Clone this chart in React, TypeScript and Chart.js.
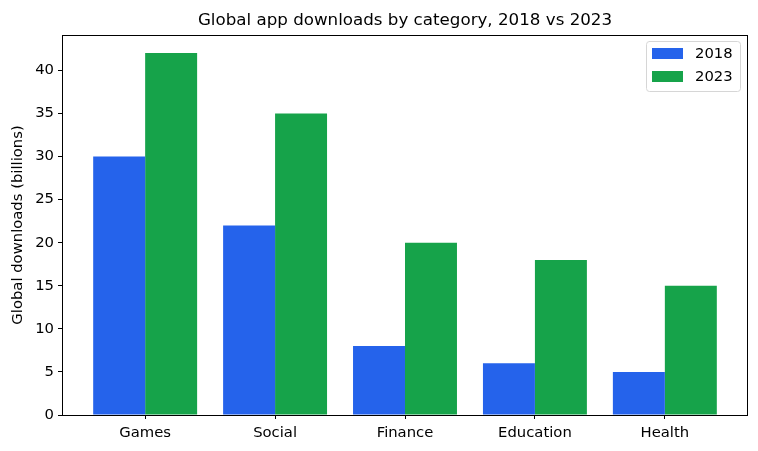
import React, { useEffect, useRef } from "react";
import { Chart, registerables } from "chart.js";

Chart.register(...registerables);

const categories = ["Games", "Social", "Finance", "Education", "Health"];
const series2018 = [30, 22, 8, 6, 5];
const series2023 = [42, 35, 20, 18, 15];
const seriesLabels = ["2018", "2023"];
const yTicks = [0, 5, 10, 15, 20, 25, 30, 35, 40];
const titleText = "Global app downloads by category, 2018 vs 2023";
const yAxisTitle = "Global downloads (billions)";

const FONT = "'DejaVu Sans', sans-serif";
const BLUE = "#2563eb";
const GREEN = "#16a34a";

const framePlugin = {
  id: "frame",
  afterDatasetsDraw(chart: any) {
    const { ctx, chartArea } = chart;
    ctx.save();
    ctx.strokeStyle = "#000";
    ctx.lineWidth = 1;
    ctx.strokeRect(
      Math.round(chartArea.left) + 0.5,
      Math.round(chartArea.top) + 0.5,
      Math.round(chartArea.right - chartArea.left) - 1,
      Math.round(chartArea.bottom - chartArea.top)
    );
    ctx.restore();
  },
  afterDraw(chart: any) {
    const { ctx, chartArea } = chart;
    ctx.save();
    // title
    ctx.fillStyle = "#000";
    ctx.font = `16.7px ${FONT}`;
    ctx.textAlign = "center";
    ctx.textBaseline = "alphabetic";
    ctx.fillText(titleText, (chartArea.left + chartArea.right) / 2, 25);
    // y axis title
    ctx.save();
    ctx.translate(18, (chartArea.top + chartArea.bottom) / 2);
    ctx.rotate(-Math.PI / 2);
    ctx.font = `14.8px ${FONT}`;
    ctx.textAlign = "center";
    ctx.textBaseline = "middle";
    ctx.fillText(yAxisTitle, 0, 0);
    ctx.restore();
    // legend
    const lx = 646, ly = 41, lw = 94, lh = 50;
    ctx.beginPath();
    const r = 3;
    ctx.moveTo(lx + r, ly + 0.5);
    ctx.arcTo(lx + lw + 0.5, ly + 0.5, lx + lw + 0.5, ly + lh, r);
    ctx.arcTo(lx + lw + 0.5, ly + lh + 0.5, lx, ly + lh + 0.5, r);
    ctx.arcTo(lx + 0.5, ly + lh + 0.5, lx + 0.5, ly, r);
    ctx.arcTo(lx + 0.5, ly + 0.5, lx + lw, ly + 0.5, r);
    ctx.closePath();
    ctx.fillStyle = "rgba(255,255,255,0.8)";
    ctx.fill();
    ctx.strokeStyle = "#d6d6d6";
    ctx.lineWidth = 1;
    ctx.stroke();
    chart.data.datasets.forEach((ds: any, i: number) => {
      const y = 48 + i * 23;
      ctx.fillStyle = ds.backgroundColor;
      ctx.fillRect(652, y, 31, 11);
      ctx.fillStyle = "#000";
      ctx.font = `14.8px ${FONT}`;
      ctx.textAlign = "left";
      ctx.textBaseline = "middle";
      ctx.fillText(ds.label, 695, y + 6);
    });
    ctx.restore();
  },
};

export default function App() {
  const ref = useRef<HTMLCanvasElement>(null);
  useEffect(() => {
    document.body.style.margin = "0";
    const canvas = ref.current!;
    const chart = new Chart(canvas, {
      type: "bar",
      data: {
        datasets: [
          {
            label: seriesLabels[0],
            data: series2018.map((v, i) => ({ x: i, y: v })),
            backgroundColor: BLUE,
            borderWidth: 0,
          },
          {
            label: seriesLabels[1],
            data: series2023.map((v, i) => ({ x: i, y: v })),
            backgroundColor: GREEN,
            borderWidth: 0,
          },
        ],
      },
      options: {
        animation: false,
        responsive: false,
        maintainAspectRatio: false,
        layout: { padding: { left: 0, right: 10, top: 35, bottom: 0 } },
        datasets: { bar: { categoryPercentage: 0.8, barPercentage: 1 } },
        plugins: {
          legend: { display: false },
          title: { display: false },
          tooltip: { enabled: false },
        },
        scales: {
          x: {
            type: "linear",
            min: -0.64,
            max: 4.64,
            offset: false,
            grid: {
              offset: false,
              drawOnChartArea: false,
              tickLength: 4,
              tickColor: "#000",
              color: "#000",
            },
            border: { display: false },
            afterBuildTicks: (scale: any) => {
              scale.ticks = categories.map((_, i) => ({ value: i }));
            },
            ticks: {
              autoSkip: false,
              maxRotation: 0,
              padding: 5,
              color: "#000",
              font: { family: FONT, size: 14.8 },
              callback: (v: any) => categories[Math.round(Number(v))] ?? "",
            },
            afterFit: (scale: any) => {
              scale.height = 36;
            },
          },
          y: {
            min: 0,
            max: 44.1,
            grid: {
              drawOnChartArea: false,
              tickLength: 4,
              tickColor: "#000",
              color: "#000",
            },
            border: { display: false },
            afterBuildTicks: (scale: any) => {
              scale.ticks = yTicks.map((v) => ({ value: v }));
            },
            ticks: {
              padding: 4,
              color: "#000",
              font: { family: FONT, size: 14.8 },
            },
            afterFit: (scale: any) => {
              scale.width = 62;
            },
          },
        },
      },
      plugins: [framePlugin],
    });
    return () => chart.destroy();
  }, []);
  return <canvas ref={ref} width={758} height={451} style={{ display: "block" }} />;
}
